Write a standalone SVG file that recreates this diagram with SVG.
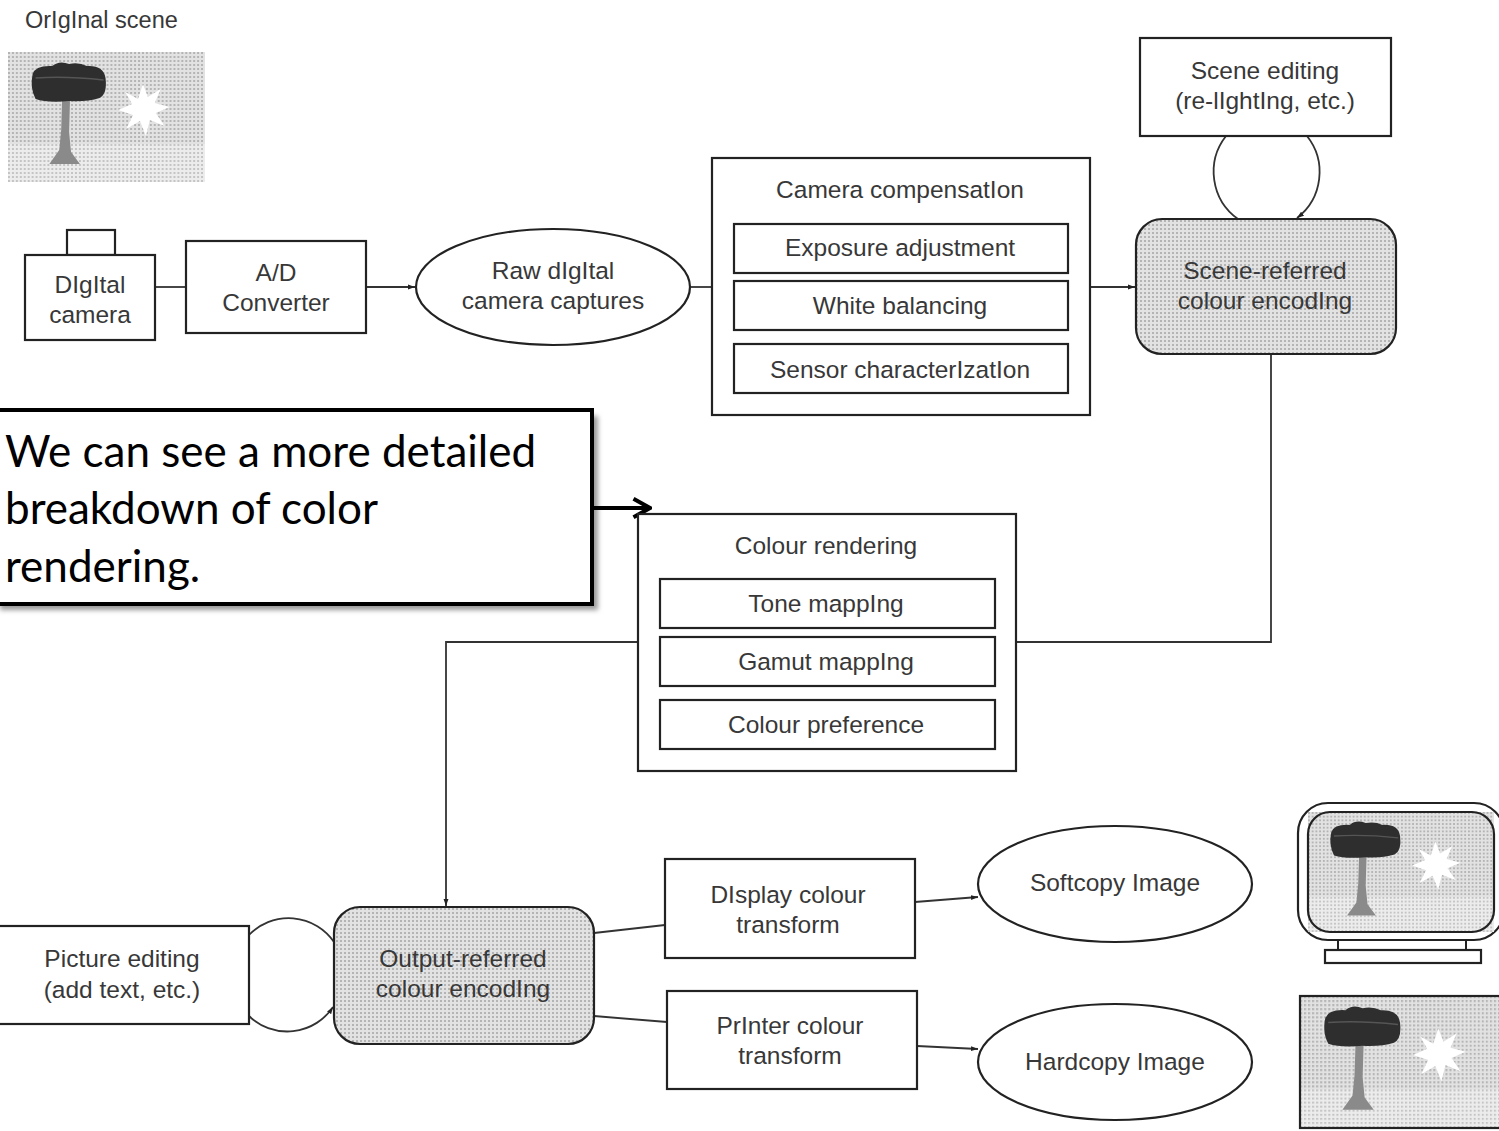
<svg xmlns="http://www.w3.org/2000/svg" width="1499" height="1131" viewBox="0 0 1499 1131">
  <style>
    .box { fill: #ffffff; stroke: #222; stroke-width: 2.2; }
    .shade { fill: url(#dots); stroke: #222; stroke-width: 2.2; }
    .line { fill: none; stroke: #333; stroke-width: 1.8; }
    .arr { fill: none; stroke: #333; stroke-width: 1.8; marker-end: url(#head); }
    .t { font-family: "Liberation Sans", Arial, sans-serif; font-size: 24.5px; fill: #383838; text-anchor: middle; }
    .note { font-family: Lato, "Open Sans", sans-serif; font-size: 44px; fill: #000; }
  </style>
  <defs>
    <pattern id="dots" width="4" height="4" patternUnits="userSpaceOnUse">
      <rect width="4" height="4" fill="#e2e2e2"/>
      <rect width="2" height="2" fill="#b4b4b4"/>
    </pattern>
    <pattern id="dotsLight" width="4" height="4" patternUnits="userSpaceOnUse">
      <rect width="4" height="4" fill="#ececec"/>
      <rect width="2" height="2" fill="#c4c4c4"/>
    </pattern>
    <marker id="head" viewBox="0 0 10 10" refX="10" refY="5" markerWidth="7" markerHeight="7" orient="auto" markerUnits="userSpaceOnUse">
      <path d="M0,1.5 L10,5 L0,8.5 Z" fill="#222"/>
    </marker>
    <marker id="chevron" viewBox="0 0 12 12" refX="11" refY="6" markerWidth="22" markerHeight="22" orient="auto" markerUnits="userSpaceOnUse">
      <path d="M2,1 L11,6 L2,11" fill="none" stroke="#000" stroke-width="2.2"/>
    </marker>
    <filter id="soft" x="-10%" y="-10%" width="120%" height="120%">
      <feGaussianBlur stdDeviation="2.5"/>
    </filter>
    <!-- tree-and-sun scene, reused for the original, the monitor and the print -->
    <symbol id="scene" viewBox="0 0 200 130" preserveAspectRatio="none">
      <rect x="0" y="0" width="200" height="130" fill="url(#dots)"/>
      <rect x="0" y="92" width="200" height="38" fill="url(#dotsLight)"/>
      <path d="M55,46 L63,46 L62,80 L64,100 L73,112 L42,112 L52,98 L54,78 Z" fill="#8a8a8a"/>
      <path d="M25,22 Q28,13 45,14 Q52,8 62,12 Q72,10 80,14 Q97,13 99,26 Q101,42 93,46 Q80,50 62,49 Q40,51 28,47 Q22,36 25,22 Z" fill="#2e2e2e"/>
      <path d="M28,26 Q60,24 97,28" stroke="#555" stroke-width="1.5" fill="none"/>
      <path d="M137,32 L142,45 L155,37 L149,51 L164,55 L150,61 L159,74 L144,68 L140,84 L134,69 L120,77 L127,63 L112,58 L126,52 L119,40 L132,47 Z" fill="#ffffff"/>
    </symbol>
  </defs>

  <rect width="1499" height="1131" fill="#ffffff"/>

  <!-- connectors -->
  <g id="connectors">
    <line class="line" x1="155" y1="287" x2="186" y2="287"/>
    <line class="arr" x1="366" y1="287" x2="415" y2="287"/>
    <line class="line" x1="690" y1="287" x2="712" y2="287"/>
    <line class="arr" x1="1090" y1="287" x2="1135" y2="287"/>
    <!-- scene editing loop -->
    <path class="line" d="M1226,136 A58,58 0 0 0 1238,219"/>
    <path class="arr" d="M1307,136 A58,58 0 0 1 1297,218"/>
    <!-- scene-referred down to colour rendering -->
    <polyline class="line" points="1271,354 1271,642 1016,642"/>
    <!-- colour rendering to output-referred -->
    <polyline class="arr" points="638,642 446,642 446,906"/>
    <!-- picture editing loop -->
    <path class="line" d="M249,935 A55,55 0 0 1 334,942"/>
    <path class="arr" d="M249,1016 A55,55 0 0 0 333,1007"/>
    <line class="line" x1="594" y1="933" x2="665" y2="925"/>
    <line class="line" x1="594" y1="1016" x2="667" y2="1022"/>
    <line class="arr" x1="915" y1="902" x2="978" y2="897"/>
    <line class="arr" x1="917" y1="1046" x2="978" y2="1049"/>
  </g>

  <g id="original-scene">
    <text x="25" y="28" class="t" style="text-anchor:start; font-size:23.5px">OrIgInal scene</text>
    <use href="#scene" x="8" y="52" width="197" height="130"/>
  </g>

  <g id="digital-camera">
    <rect class="box" x="67" y="230" width="48" height="25"/>
    <rect class="box" x="25" y="255" width="130" height="85"/>
    <text class="t" x="90" y="293">DIgItal</text>
    <text class="t" x="90" y="323">camera</text>
  </g>

  <g id="ad-converter">
    <rect class="box" x="186" y="241" width="180" height="92"/>
    <text class="t" x="276" y="281">A/D</text>
    <text class="t" x="276" y="311">Converter</text>
  </g>

  <g id="raw-captures">
    <ellipse class="box" cx="553" cy="287" rx="137" ry="58"/>
    <text class="t" x="553" y="279">Raw dIgItal</text>
    <text class="t" x="553" y="309">camera captures</text>
  </g>

  <g id="camera-compensation">
    <rect class="box" x="712" y="158" width="378" height="257"/>
    <text class="t" x="900" y="198">Camera compensatIon</text>
    <rect class="box" x="734" y="224" width="334" height="49"/>
    <text class="t" x="900" y="256">Exposure adjustment</text>
    <rect class="box" x="734" y="281" width="334" height="49"/>
    <text class="t" x="900" y="314">White balancing</text>
    <rect class="box" x="734" y="344" width="334" height="49"/>
    <text class="t" x="900" y="378">Sensor characterIzatIon</text>
  </g>

  <g id="scene-editing">
    <rect class="box" x="1140" y="38" width="251" height="98"/>
    <text class="t" x="1265" y="79">Scene editing</text>
    <text class="t" x="1265" y="109">(re-lIghtIng, etc.)</text>
  </g>

  <g id="scene-referred">
    <rect class="shade" x="1136" y="219" width="260" height="135" rx="26"/>
    <text class="t" x="1265" y="279">Scene-referred</text>
    <text class="t" x="1265" y="309">colour encodIng</text>
  </g>

  <g id="callout">
    <rect x="0" y="416" width="598" height="194" fill="#9a9a9a" filter="url(#soft)"/>
    <rect x="-5" y="410" width="597" height="194" fill="#ffffff" stroke="#000" stroke-width="4"/>
    <text class="note" x="5" y="467">We can see a more detailed</text>
    <text class="note" x="5" y="524">breakdown of color</text>
    <text class="note" x="5" y="582">rendering.</text>
    <line x1="592" y1="508" x2="650" y2="508" stroke="#000" stroke-width="4" marker-end="url(#chevron)"/>
  </g>

  <g id="colour-rendering">
    <rect class="box" x="638" y="514" width="378" height="257"/>
    <text class="t" x="826" y="554">Colour rendering</text>
    <rect class="box" x="660" y="579" width="335" height="49"/>
    <text class="t" x="826" y="612">Tone mappIng</text>
    <rect class="box" x="660" y="637" width="335" height="49"/>
    <text class="t" x="826" y="670">Gamut mappIng</text>
    <rect class="box" x="660" y="700" width="335" height="49"/>
    <text class="t" x="826" y="733">Colour preference</text>
  </g>

  <g id="picture-editing">
    <rect class="box" x="-2" y="926" width="251" height="98"/>
    <text class="t" x="122" y="967">Picture editing</text>
    <text class="t" x="122" y="998">(add text, etc.)</text>
  </g>

  <g id="output-referred">
    <rect class="shade" x="334" y="907" width="260" height="137" rx="26"/>
    <text class="t" x="463" y="967">Output-referred</text>
    <text class="t" x="463" y="997">colour encodIng</text>
  </g>

  <g id="display-transform">
    <rect class="box" x="665" y="859" width="250" height="99"/>
    <text class="t" x="788" y="903">DIsplay colour</text>
    <text class="t" x="788" y="933">transform</text>
  </g>

  <g id="printer-transform">
    <rect class="box" x="667" y="991" width="250" height="98"/>
    <text class="t" x="790" y="1034">PrInter colour</text>
    <text class="t" x="790" y="1064">transform</text>
  </g>

  <g id="softcopy">
    <ellipse class="box" cx="1115" cy="884" rx="137" ry="58"/>
    <text class="t" x="1115" y="891">Softcopy Image</text>
  </g>

  <g id="hardcopy">
    <ellipse class="box" cx="1115" cy="1062" rx="137" ry="58"/>
    <text class="t" x="1115" y="1070">Hardcopy Image</text>
  </g>

  <g id="monitor">
    <rect x="1298" y="803" width="206" height="137" rx="30" fill="#ffffff" stroke="#222" stroke-width="2.2"/>
    <use href="#scene" x="1308" y="812" width="186" height="120"/>
    <rect x="1308" y="812" width="186" height="120" rx="22" fill="none" stroke="#222" stroke-width="2.2"/>
    <line x1="1338" y1="940" x2="1338" y2="950" stroke="#222" stroke-width="2"/>
    <line x1="1466" y1="940" x2="1466" y2="950" stroke="#222" stroke-width="2"/>
    <rect class="box" x="1325" y="950" width="156" height="13"/>
  </g>

  <g id="print">
    <use href="#scene" x="1300" y="996" width="202" height="132"/>
    <rect x="1300" y="996" width="202" height="132" fill="none" stroke="#222" stroke-width="2.2"/>
  </g>
</svg>
